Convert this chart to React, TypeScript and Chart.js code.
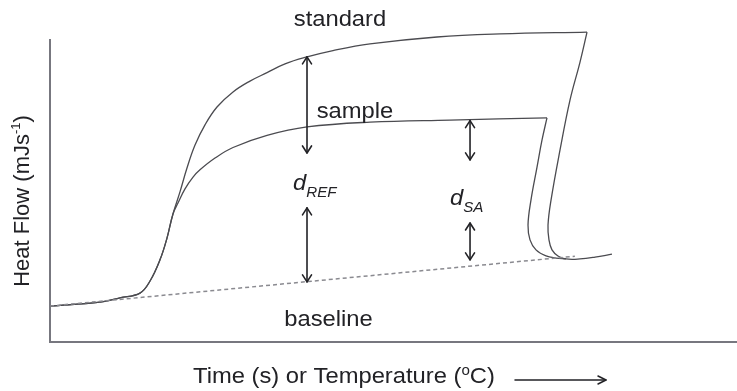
import React, { useEffect, useRef } from "react";
import { Chart, registerables } from "chart.js";

Chart.register(...registerables);

// Heat flow (arbitrary units) against time / temperature (arbitrary units).
// Standard (reference) run: ramp up to the plateau, then the return once heating stops.
const STANDARD_RISE_T = [0, 7.28, 10.19, 13.1, 14.56, 16.01, 17.03, 17.9, 18.92, 19.94, 21.11, 22.56, 24.31, 26.64, 29.11, 31.59, 34.21, 37.41, 41.19, 46.58, 56.33, 65.5, 78.17];
const STANDARD_RISE_Q = [11.9, 13.2, 14.6, 16.2, 20.2, 27.2, 34.4, 42.4, 49.7, 57.6, 65.2, 71.9, 77.8, 82.8, 86.4, 89.2, 92.1, 94.4, 96.5, 98.7, 101.0, 102.0, 102.6];
const STANDARD_FALL_T = [78.17, 77.15, 75.69, 74.24, 72.93, 72.49, 72.63, 73.07, 73.94, 75.11, 77.15, 79.33, 81.8];
const STANDARD_FALL_Q = [102.6, 92.7, 80.1, 63.6, 47.0, 38.7, 33.8, 30.5, 28.5, 27.5, 27.5, 28.1, 29.1];

// Sample run
const SAMPLE_RISE_T = [0, 7.28, 10.19, 13.1, 14.56, 16.01, 17.03, 17.9, 18.63, 19.65, 20.82, 21.83, 24.02, 26.64, 31.59, 37.41, 46.58, 58.22, 72.34];
const SAMPLE_RISE_Q = [11.9, 13.2, 14.6, 16.2, 20.2, 27.2, 34.4, 42.4, 46.0, 50.7, 54.6, 57.0, 60.9, 64.4, 68.4, 71.2, 72.8, 73.5, 74.2];
const SAMPLE_FALL_T = [72.34, 71.62, 70.89, 70.01, 69.58, 69.87, 70.74, 72.2, 73.65, 75.11];
const SAMPLE_FALL_Q = [74.2, 66.9, 57.9, 47.0, 38.7, 33.8, 30.5, 28.5, 27.8, 27.5];

// Baseline (empty pans)
const BASELINE_T = [0, 76.4];
const BASELINE_Q = [11.9, 28.4];

// Double-headed distance markers: d_REF (two parts) and d_SA (two parts)
const ARROW_T = [37.41, 37.41, 61.14, 61.14];
const ARROW_TOP = [94.4, 44.4, 73.3, 39.4];
const ARROW_BOTTOM = [62.6, 19.9, 60.3, 27.2];

const FONT = '"Liberation Sans", Arial, Helvetica, sans-serif';
const INK = "#222226";
const CURVE = "#4b4b50";
const STRETCH = 1.08;

type Run = { text: string; size?: number; italic?: boolean; dy?: number };
type Label = { runs: Run[]; t: number; q: number; align: "left" | "center" };

const LABELS: Label[] = [
  { runs: [{ text: "standard" }], t: 42.21, q: 104.6, align: "center" },
  { runs: [{ text: "sample" }], t: 44.4, q: 74.2, align: "center" },
  { runs: [{ text: "baseline" }], t: 40.54, q: 5.3, align: "center" },
  { runs: [{ text: "d", italic: true }, { text: "REF", italic: true, size: 14, dy: 7 }], t: 35.37, q: 50.3, align: "left" },
  { runs: [{ text: "d", italic: true }, { text: "SA", italic: true, size: 14, dy: 7 }], t: 58.22, q: 45.4, align: "left" },
];

const Y_TITLE: Run[] = [{ text: "Heat Flow (mJs" }, { text: "-1", size: 13, dy: -9 }, { text: ")" }];
const X_TITLE: Run[] = [{ text: "Time (s) or Temperature (" }, { text: "o", size: 14, dy: -8 }, { text: "C)" }];

const pts = (t: number[], q: number[]) => t.map((x, i) => ({ x, y: q[i] }));

function runFont(r: Run) {
  return `${r.italic ? "italic " : ""}${r.size ?? 22}px ${FONT}`;
}

function drawRuns(
  ctx: CanvasRenderingContext2D,
  runs: Run[],
  x: number,
  y: number,
  align: "left" | "center",
  rotate = false,
  sx = STRETCH
) {
  ctx.save();
  ctx.translate(x, y);
  ctx.scale(sx, 1);
  if (rotate) ctx.rotate(-Math.PI / 2);
  ctx.fillStyle = INK;
  ctx.textAlign = "left";
  ctx.textBaseline = "alphabetic";
  let total = 0;
  for (const r of runs) {
    ctx.font = runFont(r);
    total += ctx.measureText(r.text).width;
  }
  let cx = align === "center" ? -total / 2 : 0;
  for (const r of runs) {
    ctx.font = runFont(r);
    ctx.fillText(r.text, cx, r.dy ?? 0);
    cx += ctx.measureText(r.text).width;
  }
  ctx.restore();
}

function head(ctx: CanvasRenderingContext2D, x: number, y: number, dir: number) {
  ctx.beginPath();
  ctx.moveTo(x - 4.5, y - dir * 7);
  ctx.lineTo(x, y);
  ctx.lineTo(x + 4.5, y - dir * 7);
  ctx.stroke();
}

const annotations = {
  id: "dscAnnotations",
  afterDraw(chart: Chart) {
    const ctx = chart.ctx;
    const xs = chart.scales.x;
    const ys = chart.scales.y;
    ctx.save();
    ctx.strokeStyle = INK;
    ctx.lineWidth = 1.6;
    ctx.lineCap = "round";
    ctx.lineJoin = "round";
    ARROW_T.forEach((t, i) => {
      const x = xs.getPixelForValue(t);
      const y1 = ys.getPixelForValue(ARROW_TOP[i]);
      const y2 = ys.getPixelForValue(ARROW_BOTTOM[i]);
      ctx.beginPath();
      ctx.moveTo(x, y1);
      ctx.lineTo(x, y2);
      ctx.stroke();
      head(ctx, x, y1, -1);
      head(ctx, x, y2, 1);
    });

    for (const l of LABELS) {
      drawRuns(ctx, l.runs, xs.getPixelForValue(l.t), ys.getPixelForValue(l.q), l.align);
    }

    const area = chart.chartArea;
    // axis titles
    drawRuns(ctx, Y_TITLE, area.left - 21, (area.top + area.bottom) / 2 + 10, "center", true, 1);
    drawRuns(ctx, X_TITLE, area.left + 143, area.bottom + 41, "left");

    // direction arrow after the x title
    const ay = area.bottom + 38;
    const ax1 = area.left + 465;
    const ax2 = area.left + 556;
    ctx.lineWidth = 1.5;
    ctx.beginPath();
    ctx.moveTo(ax1, ay);
    ctx.lineTo(ax2, ay);
    ctx.stroke();
    ctx.beginPath();
    ctx.moveTo(ax2 - 8, ay - 4);
    ctx.lineTo(ax2, ay);
    ctx.lineTo(ax2 - 8, ay + 4);
    ctx.stroke();
    ctx.restore();
  },
};

export default function App() {
  const canvasRef = useRef<HTMLCanvasElement | null>(null);

  useEffect(() => {
    document.body.style.margin = "0";
    const canvas = canvasRef.current;
    if (!canvas) return;

    const line = (data: { x: number; y: number }[], extra: Record<string, unknown> = {}) => ({
      data,
      showLine: true,
      pointRadius: 0,
      borderColor: CURVE,
      borderWidth: 1.3,
      tension: 0.4,
      fill: false,
      clip: false as const,
      ...extra,
    });

    const chart = new Chart(canvas, {
      type: "scatter",
      data: {
        datasets: [
          line(pts(BASELINE_T, BASELINE_Q), { borderColor: "#8a8a90", borderDash: [4, 3], borderWidth: 1.5, tension: 0 }),
          line(pts(STANDARD_RISE_T, STANDARD_RISE_Q)),
          line(pts(STANDARD_FALL_T, STANDARD_FALL_Q)),
          line(pts(SAMPLE_RISE_T, SAMPLE_RISE_Q)),
          line(pts(SAMPLE_FALL_T, SAMPLE_FALL_Q)),
        ],
      },
      options: {
        animation: false,
        responsive: false,
        devicePixelRatio: 1,
        events: [],
        layout: { padding: { left: 50, top: 40, right: 0, bottom: 49 } },
        plugins: { legend: { display: false }, tooltip: { enabled: false } },
        scales: {
          x: {
            type: "linear",
            min: 0,
            max: 100,
            grid: { display: false, drawTicks: false },
            ticks: { display: false },
            border: { display: true, color: "#77777f", width: 2 },
          },
          y: {
            type: "linear",
            min: 0,
            max: 100,
            grid: { display: false, drawTicks: false },
            ticks: { display: false },
            border: { display: true, color: "#77777f", width: 2 },
          },
        },
      },
      plugins: [annotations],
    });

    return () => chart.destroy();
  }, []);

  return (
    <div style={{ width: 737, height: 391, background: "#fff" }}>
      <canvas ref={canvasRef} width={737} height={391} />
    </div>
  );
}
